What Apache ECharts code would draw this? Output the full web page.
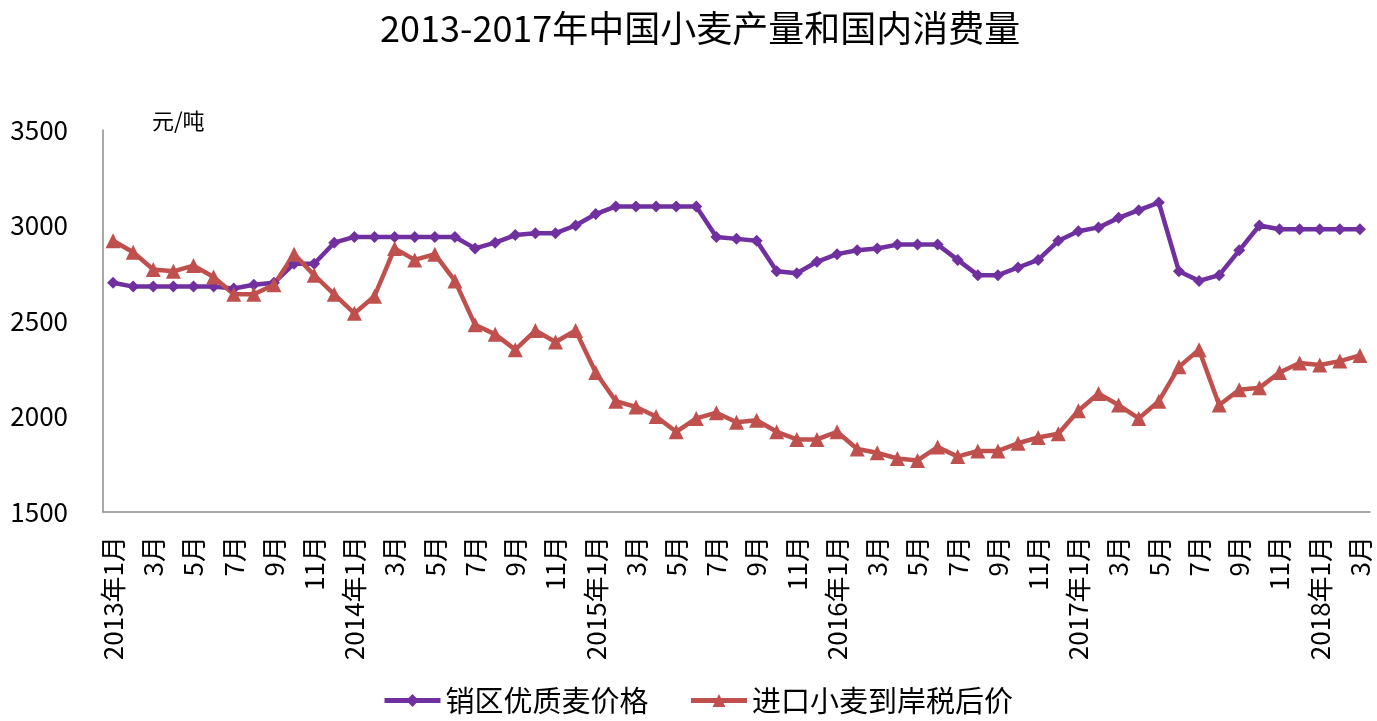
<!DOCTYPE html>
<html>

	<head>
		<meta charset="UTF-8">
		<title>2013-2017年中国小麦产量和国内消费量</title>
		<style type="text/css">
			html,
			body {
				margin: 0;
				padding: 0;
				background: #fff;
			}
			
			#wheat-chart {
				width: 1377px;
				height: 721px;
			}
		</style>
	</head>

	<body>
		<div id="wheat-chart"></div>
		<script src="https://cdn.jsdelivr.net/npm/echarts@6/dist/echarts.min.js"></script>
		<script type="text/javascript">
			var months = [
				'2013年1月', '2月', '3月', '4月', '5月', '6月', '7月', '8月', '9月', '10月', '11月', '12月',
				'2014年1月', '2月', '3月', '4月', '5月', '6月', '7月', '8月', '9月', '10月', '11月', '12月',
				'2015年1月', '2月', '3月', '4月', '5月', '6月', '7月', '8月', '9月', '10月', '11月', '12月',
				'2016年1月', '2月', '3月', '4月', '5月', '6月', '7月', '8月', '9月', '10月', '11月', '12月',
				'2017年1月', '2月', '3月', '4月', '5月', '6月', '7月', '8月', '9月', '10月', '11月', '12月',
				'2018年1月', '2月', '3月'
			];

			// 销区优质麦价格 (元/吨)
			var premiumPrice = [
				2700, 2680, 2680, 2680, 2680, 2680, 2670, 2690, 2700, 2800, 2800, 2910,
				2940, 2940, 2940, 2940, 2940, 2940, 2880, 2910, 2950, 2960, 2960, 3000,
				3060, 3100, 3100, 3100, 3100, 3100, 2940, 2930, 2920, 2760, 2750, 2810,
				2850, 2870, 2880, 2900, 2900, 2900, 2820, 2740, 2740, 2780, 2820, 2920,
				2970, 2990, 3040, 3080, 3120, 2760, 2710, 2740, 2870, 3000, 2980, 2980,
				2980, 2980, 2980
			];

			// 进口小麦到岸税后价 (元/吨)
			var importPrice = [
				2920, 2860, 2770, 2760, 2790, 2730, 2640, 2640, 2690, 2850, 2740, 2640,
				2540, 2630, 2880, 2820, 2850, 2710, 2480, 2430, 2350, 2450, 2390, 2450,
				2230, 2080, 2050, 2000, 1920, 1990, 2020, 1970, 1980, 1920, 1880, 1880,
				1920, 1830, 1810, 1780, 1770, 1840, 1790, 1820, 1820, 1860, 1890, 1910,
				2030, 2120, 2060, 1990, 2080, 2260, 2350, 2060, 2140, 2150, 2230, 2280,
				2270, 2290, 2320
			];

			var seriesNames = ['销区优质麦价格', '进口小麦到岸税后价'];
			var font = 'Noto Sans CJK SC';

			var myChart = echarts.init(document.getElementById('wheat-chart'));

			var option = {
				backgroundColor: '#fff',
				title: {
					text: '2013-2017年中国小麦产量和国内消费量',
					left: 375,
					top: 5,
					textStyle: {
						fontFamily: font,
						fontSize: 36,
						fontWeight: 'normal',
						color: '#000'
					}
				},
				legend: {
					data: seriesNames,
					bottom: 1,
					left: 377,
					itemWidth: 56,
					itemHeight: 16,
					itemGap: 40,
					lineStyle: {
						width: 5
					},
					textStyle: {
						fontFamily: font,
						fontSize: 29,
						color: '#000'
					}
				},
				graphic: [{
					type: 'text',
					left: 152,
					top: 110,
					style: {
						text: '元/吨',
						fontFamily: font,
						fontSize: 22,
						fill: '#000'
					}
				}],
				grid: {
					left: 103,
					right: 7,
					top: 130,
					bottom: 209
				},
				xAxis: {
					type: 'category',
					data: months,
					boundaryGap: true,
					axisLine: {
						lineStyle: {
							color: '#8c8c8c',
							width: 1.5
						}
					},
					axisTick: {
						show: false
					},
					axisLabel: {
						interval: 1,
						rotate: 90,
						margin: 24,
						fontFamily: font,
						fontSize: 26,
						color: '#000'
					}
				},
				yAxis: {
					type: 'value',
					min: 1500,
					max: 3500,
					interval: 500,
					axisLine: {
						show: true,
						lineStyle: {
							color: '#8c8c8c',
							width: 1.5
						}
					},
					axisTick: {
						show: false
					},
					splitLine: {
						show: false
					},
					axisLabel: {
						margin: 35,
						fontFamily: font,
						fontSize: 26,
						color: '#000',
						formatter: function(v) {
							return String(v);
						}
					}
				},
				series: [{
					name: seriesNames[0],
					type: 'line',
					data: premiumPrice,
					symbol: 'diamond',
					symbolSize: 12,
					showAllSymbol: true,
					color: '#7030a0',
					lineStyle: {
						width: 4.5,
						color: '#7030a0'
					},
					itemStyle: {
						color: '#7030a0'
					}
				}, {
					name: seriesNames[1],
					type: 'line',
					data: importPrice,
					symbol: 'triangle',
					symbolSize: 15,
					showAllSymbol: true,
					color: '#c0504d',
					lineStyle: {
						width: 4.5,
						color: '#c0504d'
					},
					itemStyle: {
						color: '#c0504d'
					}
				}]
			};
			myChart.setOption(option);
		</script>
	</body>

</html>
